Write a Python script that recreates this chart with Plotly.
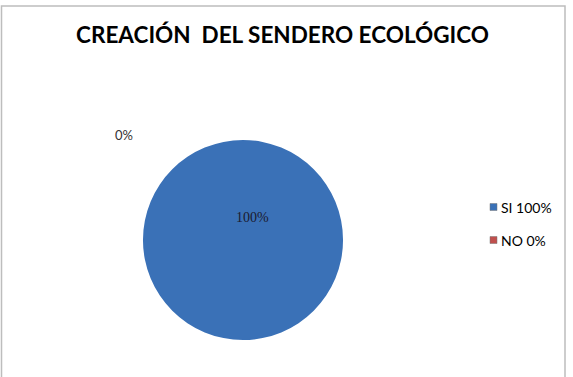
import plotly.graph_objects as go

categories = ["SI", "NO"]
values = [100, 0]
colors = ["#3A71B7", "#C0504D"]
title = "CREACIÓN  DEL SENDERO ECOLÓGICO"

W, H = 573, 377
total = sum(values)
pcts = [round(v / total * 100) for v in values]
legend_labels = [f"{c} {p}%" for c, p in zip(categories, pcts)]

cx, cy, r = 243, 240, 100

fig = go.Figure(go.Pie(
    labels=legend_labels,
    values=values,
    marker=dict(colors=colors, line=dict(width=0)),
    textinfo="none",
    sort=False,
    direction="clockwise",
    hoverinfo="label",
    showlegend=False,
    domain=dict(x=[(cx - r) / W, (cx + r) / W], y=[1 - (cy + r) / H, 1 - (cy - r) / H]),
))

# manual legend built from the data
shapes = [dict(type="rect", xref="paper", yref="paper",
               x0=1.5 / W, x1=565 / W, y0=-0.05, y1=1 - 6 / H,
               line=dict(color="#BDBDBD", width=1.5), fillcolor="rgba(0,0,0,0)")]
annotations = [
    dict(text=f"{pcts[0]}%", x=252 / W, y=1 - 217 / H, xref="paper", yref="paper",
         showarrow=False, font=dict(family="Liberation Serif", size=14, color="#1a1a2e")),
    dict(text=f"{pcts[1]}%", x=113 / W, y=1 - 135 / H, xref="paper", yref="paper",
         showarrow=False, font=dict(family="Lato", size=13, color="#333333")),
]
leg_x, leg_y0, leg_dy, sq = 490, 207, 33, 7
for i, (lab, col) in enumerate(zip(legend_labels, colors)):
    yc = leg_y0 + i * leg_dy
    shapes.append(dict(type="rect", xref="paper", yref="paper",
                       x0=leg_x / W, x1=(leg_x + sq) / W,
                       y0=1 - (yc + sq / 2) / H, y1=1 - (yc - sq / 2) / H,
                       fillcolor=col, line=dict(color="#777777", width=0.5)))
    annotations.append(dict(text=lab, x=(leg_x + sq + 2) / W, y=1 - yc / H,
                            xref="paper", yref="paper", xanchor="left", yanchor="middle",
                            showarrow=False,
                            font=dict(family="Lato", size=14, color="black")))

fig.update_layout(
    width=W, height=H,
    margin=dict(l=0, r=0, t=0, b=0),
    paper_bgcolor="white",
    showlegend=False,
    title=dict(text=f"<b>{title}</b>", x=(77 + 488) / 2 / W, xanchor="center",
               y=1 - 35 / H, yanchor="middle",
               font=dict(family="Lato", size=22.5, color="black")),
    annotations=annotations,
    shapes=shapes,
)

fig.write_html("out.html")
